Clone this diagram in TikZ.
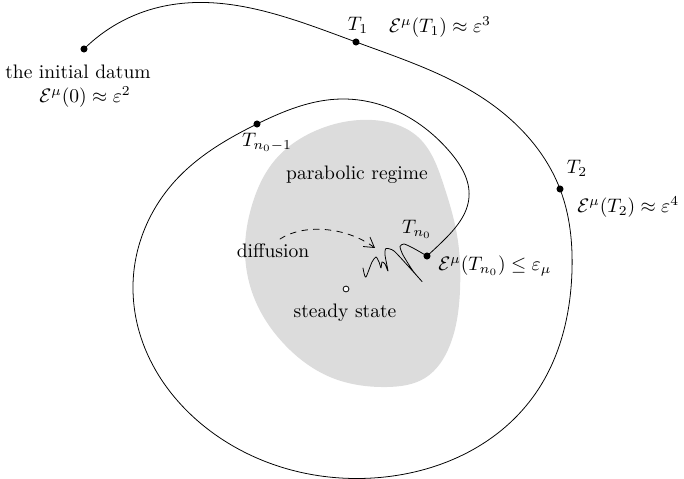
\documentclass[tikz,border=0pt]{standalone}
\usepackage{amsmath, amssymb}
\usetikzlibrary{arrows.meta, calc, positioning, hobby}
\definecolor{regimegray}{HTML}{DCDCDC}
\tikzset{
  >={Straight Barb[length=5pt, width=6pt]},
  every picture/.style={line cap=round, line join=round},
  orbit/.style={thin, black},
  regime/.style={fill=regimegray, draw=none},
  timept/.style={fill=black},
  flow/.style={->, dashed, thin},
  lbl/.style={inner sep=1pt},
}

\begin{document}
\begin{tikzpicture}[x=0.018cm, y=-0.018cm]
  \useasboundingbox (0,0) rectangle (684,479);
  % points along the trajectory
  \coordinate (init) at (84,49);
  \coordinate (t1) at (356,42);
  \coordinate (t2) at (560,189);
  \coordinate (tn1) at (257,124);
  \coordinate (tn0) at (427,256);
  \coordinate (ss) at (346,289);
  % parabolic regime
  \fill[regime] plot[closed hobby] coordinates {
    (372,120) (418,137) (443,183) (457,235) (460,290) (450,345)
    (425,378) (387,387) (330,377) (285,345) (255,300) (245,250)
    (252,205) (275,160) (315,131)};
  % trajectory
  \draw[orbit] plot[hobby] coordinates {
    (init) (160,7) (t1) (490,103) (t2) (572,270) (533,397) (373,478)
    (233,446) (133,290) (175,181) (tn1) (342,99) (450,152) (469,197)
    (443,241) (tn0)};
  % fast oscillation near the steady state
  \draw[orbit] plot[smooth, tension=0.4] coordinates {
    (tn0) (413,248) (404,244) (400,246.5) (403,255) (413,271)
    (422,281.5) (409,267) (394,251) (386,248.5) (385,255) (388,271)
    (385,264) (382,262) (381,268) (379,262) (376,257) (372,262)
    (366,277) (364,273) (363,268)};
  \draw[flow] (280,239) .. controls (303,224) and (345,226) .. (375,248);
  \foreach \p in {init, t1, t2, tn1, tn0}
    \fill[timept] (\p) circle (1.8pt);
  \draw[thin, fill=white] (ss) circle (1.5pt);
  % labels
  \node[lbl] (initlbl) at (78,72) {the initial datum};
  \node[lbl] (initval) at (85,97) {$\mathcal{E}^\mu(0)\approx\varepsilon^2$};
  \node[lbl] (t1lbl) at (358,25) {$T_1$};
  \node[lbl] (t1val) at (440,27) {$\mathcal{E}^\mu(T_1)\approx\varepsilon^3$};
  \node[lbl] (t2lbl) at (577,168) {$T_2$};
  \node[lbl, anchor=west] (t2val) at (575,207) {$\mathcal{E}^\mu(T_2)\approx\varepsilon^4$};
  \node[lbl] (tn1lbl) at (267,142) {$T_{n_0-1}$};
  \node[lbl] (paralbl) at (357,175) {parabolic regime};
  \node[lbl] (difflbl) at (273,251) {diffusion};
  \node[lbl] (tn0lbl) at (417,229) {$T_{n_0}$};
  \node[lbl, anchor=west] (tn0val) at (436,266) {$\mathcal{E}^\mu(T_{n_0})\leq\varepsilon_\mu$};
  \node[lbl] (sslbl) at (345,313) {steady state};
\end{tikzpicture}
\end{document}
